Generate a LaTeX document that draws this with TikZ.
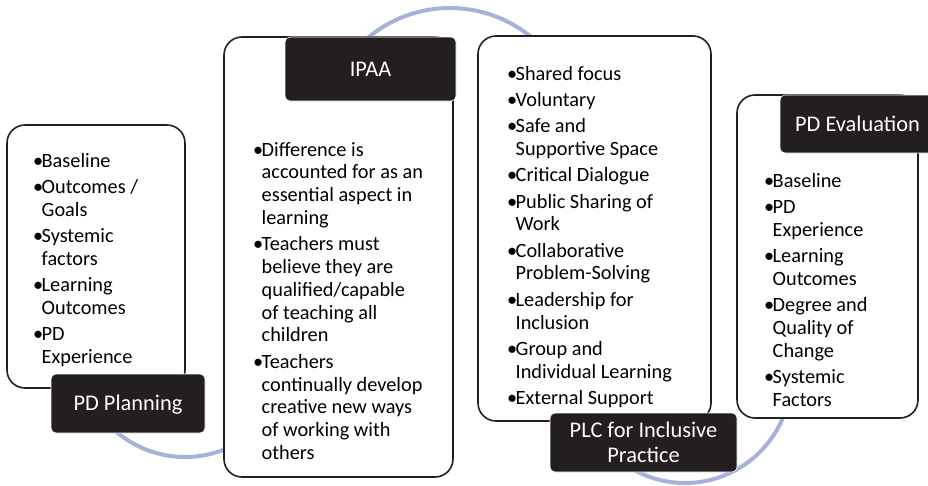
\documentclass[tikz,border=0pt]{standalone}
\usepackage{fontspec}
\setmainfont{Carlito}
\definecolor{lbl}{RGB}{35,31,32}
\definecolor{arcblue}{RGB}{166,178,218}
\newcommand\listfont{\fontsize{20.3}{22.8}\selectfont}
\newcommand\bitem[1]{\par\hangindent=8.5pt\hangafter=1\noindent\hbox to 8.5pt{\textbullet\hss}#1}
\newcommand\blist[2]{\vtop{\hsize=#1\listfont\parskip=3.5pt\parindent=0pt\rightskip=0pt plus 1fil\relax #2\par}}
\begin{document}
\begin{tikzpicture}[x=1pt,y=-1pt,
  outline/.style={draw=lbl, line width=1.6pt, fill=white, rounded corners=18pt, inner sep=0pt},
  lblbox/.style={draw=white, line width=0.6pt, fill=lbl, text=white, rounded corners=5pt, inner sep=0pt, font=\fontsize{22.4}{24.9}\selectfont, align=center},
  onerow/.style={text height=14.4pt, text depth=0pt},
  wave/.style={draw=arcblue, line width=4pt},
  txt/.style={anchor=base west, inner sep=0pt}]
\useasboundingbox (0,0) rectangle (928,485);
% connecting waves
\draw[wave] plot[domain=60:140, samples=60, smooth] ({185+106*cos(\x)},{351+106*sin(\x)});
\draw[wave] plot[domain=225:315, samples=60, smooth] ({450+128*cos(\x)},{136+128*sin(\x)});
\draw[wave] plot[domain=10:130, samples=60, smooth] ({685+106*cos(\x)},{377+106*sin(\x)});
% outline boxes
\node[outline, minimum width=178pt, minimum height=263pt] (b1) at (96,256.5) {};
\node[outline, minimum width=229pt, minimum height=440pt] (b2) at (338.5,257) {};
\node[outline, minimum width=233pt, minimum height=385pt] (b3) at (594.5,228.5) {};
\node[outline, minimum width=181pt, minimum height=323pt] (b4) at (827.5,256.5) {};
% lists
\node[txt] (t1) at (33,167) {\blist{160pt}{%
  \bitem{Baseline}
  \bitem{Outcomes /\newline Goals}
  \bitem{Systemic\newline factors}
  \bitem{Learning\newline Outcomes}
  \bitem{PD\newline Experience}}};
\node[txt] (t2) at (253,156) {\blist{200pt}{%
  \bitem{Difference is\newline accounted for as an\newline essential aspect in\newline learning}
  \bitem{Teachers must\newline believe they are\newline qualified/capable\newline of teaching all\newline children}
  \bitem{Teachers\newline continually develop\newline creative new ways\newline of working with\newline others}}};
\node[txt] (t3) at (507,80) {\blist{200pt}{%
  \bitem{Shared focus}
  \bitem{Voluntary}
  \bitem{Safe and\newline Supportive Space}
  \bitem{Critical Dialogue}
  \bitem{Public Sharing of\newline Work}
  \bitem{Collaborative\newline Problem-Solving}
  \bitem{Leadership for\newline Inclusion}
  \bitem{Group and\newline Individual Learning}
  \bitem{External Support}}};
\node[txt] (t4) at (764,187) {\blist{150pt}{%
  \bitem{Baseline}
  \bitem{PD\newline Experience}
  \bitem{Learning\newline Outcomes}
  \bitem{Degree and\newline Quality of\newline Change}
  \bitem{Systemic\newline Factors}}};
% labels
\node[lblbox, onerow, minimum width=154pt, minimum height=59pt] (l1) at (128,403.5) {PD Planning};
\node[lblbox, onerow, minimum width=171pt, minimum height=64pt] (l2) at (370.5,69) {IPAA};
\node[lblbox, minimum width=187pt, minimum height=59pt] (l3) at (643.5,442.5) {PLC for Inclusive\\Practice};
\node[lblbox, onerow, minimum width=155pt, minimum height=58pt] (l4) at (857.5,124) {PD Evaluation};
\end{tikzpicture}
\end{document}
